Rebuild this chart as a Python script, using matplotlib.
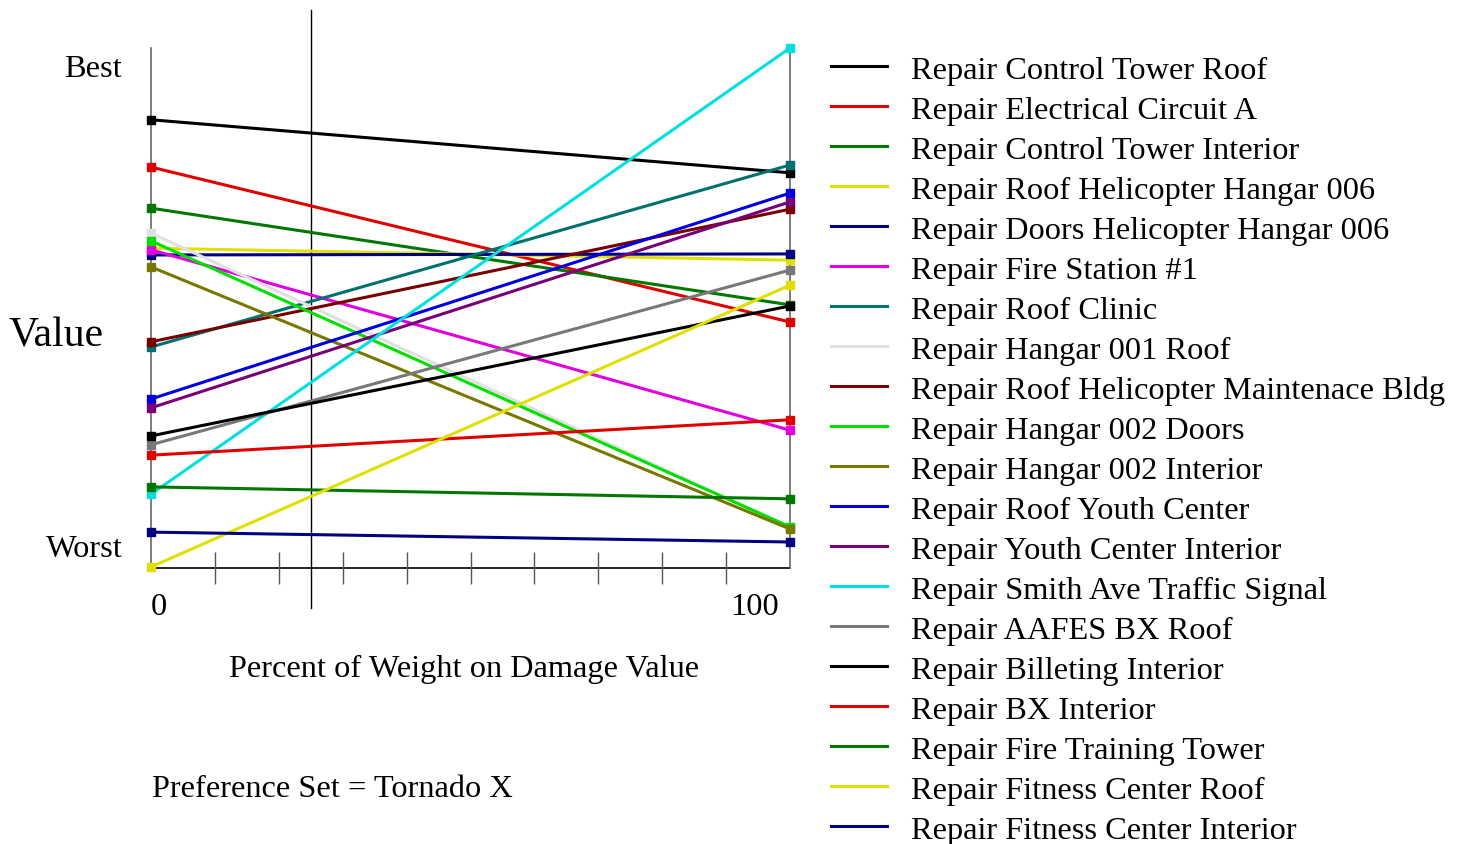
import matplotlib
matplotlib.use("Agg")
import matplotlib.pyplot as plt
from matplotlib.lines import Line2D

plt.rcParams['font.family'] = ['Liberation Serif', 'DejaVu Serif']

# alternatives, in legend order
labels = [
    "Repair Control Tower Roof",
    "Repair Electrical Circuit A",
    "Repair Control Tower Interior",
    "Repair Roof Helicopter Hangar 006",
    "Repair Doors Helicopter Hangar 006",
    "Repair Fire Station #1",
    "Repair Roof Clinic",
    "Repair Hangar 001 Roof",
    "Repair Roof Helicopter Maintenace Bldg",
    "Repair Hangar 002 Doors",
    "Repair Hangar 002 Interior",
    "Repair Roof Youth Center",
    "Repair Youth Center Interior",
    "Repair Smith Ave Traffic Signal",
    "Repair AAFES BX Roof",
    "Repair Billeting Interior",
    "Repair BX Interior",
    "Repair Fire Training Tower",
    "Repair Fitness Center Roof",
    "Repair Fitness Center Interior",
]
colors = [
    "#000000", "#e00000", "#007800", "#e0e000", "#000080",
    "#e000e0", "#007070", "#e0e0e0", "#780000", "#00e000",
    "#787800", "#0000e0", "#780078", "#00e0e0", "#787878",
    "#000000", "#e00000", "#007800", "#e0e000", "#000080",
]
# value at 0% weight on damage value (worst = 0, best = 1)
value_at_0 = [0.862, 0.771, 0.692, 0.615, 0.602, 0.612, 0.425, 0.644, 0.435, 0.629,
              0.579, 0.325, 0.308, 0.142, 0.237, 0.254, 0.217, 0.156, 0.002, 0.069]
# value at 100% weight on damage value
value_at_100 = [0.760, 0.473, 0.506, 0.592, 0.604, 0.265, 0.775, 0.079, 0.690, 0.079,
                0.075, 0.721, 0.704, 1.000, 0.573, 0.504, 0.285, 0.133, 0.544, 0.050]
weights = [0, 100]
current_weight = 25
tick_positions = [10, 20, 30, 40, 50, 60, 70, 80, 90]

W, H = 1460, 844
FS = 23.3
fig = plt.figure(figsize=(W / 100, H / 100), dpi=100)


def fx(px):
    return px / W


def fy(py):
    return 1 - py / H


ax = fig.add_axes([fx(151), fy(568), fx(790) - fx(151), fy(48) - fy(568)])
ax.set_xlim(0, 100)
ax.set_ylim(0, 1)
for s in ax.spines.values():
    s.set_visible(False)
ax.set_yticks([])
ax.set_xticks(tick_positions)
ax.set_xticklabels([])
ax.tick_params(axis='x', direction='inout', length=23, width=1, color='#555555')

# frame lines
ax.axhline(0, color='black', lw=1.2, clip_on=False, zorder=1)
ax.axvline(0, color='#666666', lw=1.2, clip_on=False, zorder=1)
ax.axvline(100, color='#666666', lw=1.2, clip_on=False, zorder=1)
ax.plot([current_weight, current_weight], [-0.077, 1.073], color='black', lw=1,
        clip_on=False, zorder=1)

for lab, c, v0, v1 in zip(labels, colors, value_at_0, value_at_100):
    ax.plot(weights, [v0, v1], color=c, lw=2.2, marker='s', markersize=6.3,
            clip_on=False, zorder=3)

# axis texts
fig.text(fx(159), fy(615), "0", fontsize=FS, ha='center', va='baseline')
fig.text(fx(754), fy(615), "100", fontsize=FS, ha='center', va='baseline')
fig.text(fx(122), fy(77), "Best", fontsize=FS, ha='right', va='baseline')
fig.text(fx(123), fy(557), "Worst", fontsize=FS, ha='right', va='baseline')
fig.text(fx(56), fy(346), "Value", fontsize=30, ha='center', va='baseline')
fig.text(fx(464), fy(677), "Percent of Weight on Damage Value", fontsize=FS,
         ha='center', va='baseline')
fig.text(fx(152), fy(797), "Preference Set = Tornado X", fontsize=FS,
         ha='left', va='baseline')

# legend
for i, (lab, c) in enumerate(zip(labels, colors)):
    fig.add_artist(Line2D([fx(831), fx(887)], [fy(66 + 40 * i)] * 2, color=c, lw=2.2))
    fig.text(fx(911), fy(79 + 40 * i), lab, fontsize=FS, ha='left', va='baseline')

fig.savefig("out.png", dpi=100, facecolor='white')
